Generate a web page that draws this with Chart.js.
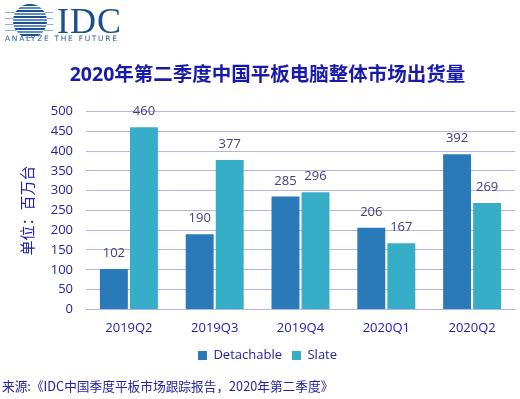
<!DOCTYPE html>
<html>
<head>
<meta charset="utf-8">
<script src="https://cdn.jsdelivr.net/npm/chart.js@4/dist/chart.umd.min.js"></script>
<style>
  body { margin: 0; background: #fff; }
  #wrap { position: relative; width: 520px; height: 399px; overflow: hidden; }
  #myChart { position: absolute; left: 0; top: 0; }
  .globe {
    position: absolute; left: 13px; top: 4px; width: 34px; height: 34px; border-radius: 50%;
    background: repeating-linear-gradient(180deg, #1d4f8f 0px, #1d4f8f 2px, #fff 2px, #fff 3px, #5b8cc7 3px, #5b8cc7 5px, #fff 5px, #fff 6px);
  }
  .line { position: absolute; height: 1px; background: #8fb0dc; }
  .idc { position: absolute; left: 57px; top: 0px; font-family: "Liberation Serif", serif; font-size: 36px; color: #1d4f8f; letter-spacing: 1px; }
  .tag { position: absolute; left: 5px; top: 34px; font-family: "DejaVu Sans", sans-serif; font-size: 7.5px; color: #2a5a9a; letter-spacing: 1.7px; }
  .src { position: absolute; left: 2px; top: 376px; font-family: "Noto Sans CJK SC", sans-serif; font-size: 12.7px; color: #2222aa; }
</style>
</head>
<body>
<div id="wrap">
  <canvas id="myChart" width="520" height="399"></canvas>
  <div class="line" style="left:5px;top:12px;width:48px"></div>
  <div class="line" style="left:5px;top:18px;width:48px"></div>
  <div class="line" style="left:5px;top:24px;width:48px"></div>
  <div class="line" style="left:5px;top:30px;width:48px"></div>
  <div class="globe"></div>
  <div class="idc">IDC</div>
  <div class="tag">ANALYZE THE FUTURE</div>
  <div class="src">来源:《IDC中国季度平板市场跟踪报告，2020年第二季度》</div>
</div>
<script>
var quarters = ["2019Q2", "2019Q3", "2019Q4", "2020Q1", "2020Q2"];
var detachable = [102, 190, 285, 206, 392];
var slate = [460, 377, 296, 167, 269];
var yTicks = [0, 50, 100, 150, 200, 250, 300, 350, 400, 450, 500];

var font = "'Open Sans', 'Noto Sans CJK SC', sans-serif";

var valueLabels = {
  id: "valueLabels",
  afterDatasetsDraw: function (chart) {
    var ctx = chart.ctx;
    ctx.save();
    ctx.font = "13px " + font;
    ctx.fillStyle = "#404080";
    ctx.textAlign = "center";
    ctx.textBaseline = "bottom";
    chart.data.datasets.forEach(function (ds, i) {
      chart.getDatasetMeta(i).data.forEach(function (bar, j) {
        ctx.fillText(ds.data[j], bar.x, bar.y - 9);
      });
    });
    ctx.restore();
  }
};

new Chart("myChart", {
  type: "bar",
  data: {
    labels: quarters,
    datasets: [
      { label: "Detachable", data: detachable, backgroundColor: "#2a7ab9" },
      { label: "Slate", data: slate, backgroundColor: "#37aec8" }
    ]
  },
  options: {
    responsive: false,
    animation: false,
    layout: { padding: { left: 20, right: 5, bottom: 27 } },
    datasets: { bar: { categoryPercentage: 0.7, barPercentage: 0.93 } },
    plugins: {
      title: {
        display: true,
        text: "2020年第二季度中国平板电脑整体市场出货量",
        color: "#1a1aaa",
        font: { family: font, size: 19.5, weight: "bold" },
        padding: { top: 64, bottom: 24 }
      },
      legend: {
        position: "bottom",
        labels: {
          color: "#2222aa",
          font: { family: font, size: 13 },
          boxWidth: 9,
          boxHeight: 9,
          padding: 10
        }
      },
      tooltip: { enabled: false }
    },
    scales: {
      x: {
        grid: { display: false },
        border: { color: "#b4b4ee" },
        ticks: { color: "#2222aa", font: { family: font, size: 13 }, padding: 3 }
      },
      y: {
        min: 0,
        max: 500,
        afterBuildTicks: function (axis) {
          axis.ticks = yTicks.map(function (v) { return { value: v }; });
        },
        afterFit: function (axis) { axis.width = 66; },
        grid: { color: "#b4b4ee", tickLength: 0 },
        border: { display: false },
        ticks: { color: "#2222aa", font: { family: font, size: 13 }, padding: 13 },
        title: {
          display: true,
          text: "单位：百万台",
          color: "#2222aa",
          font: { family: font, size: 15 },
          padding: 0
        }
      }
    }
  },
  plugins: [valueLabels]
});
</script>
</body>
</html>
